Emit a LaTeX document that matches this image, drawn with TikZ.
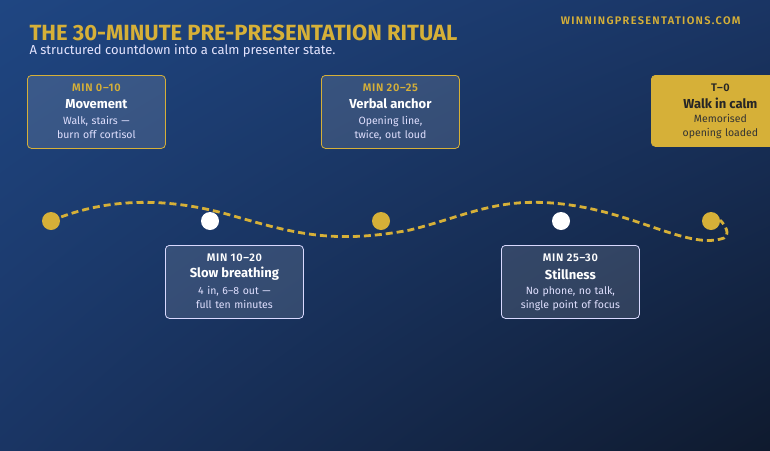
\documentclass[tikz,border=0pt]{standalone}
\usetikzlibrary{shadings}
\usepackage{fontspec}
\setmainfont{Fira Sans}
\newfontfamily\spaced[LetterSpace=12]{Fira Sans SemiBold}
\newfontfamily\spacedb[LetterSpace=6]{Fira Sans SemiBold}
\definecolor{gold}{HTML}{D6B038}
\definecolor{bgA}{HTML}{1F4682}
\definecolor{bgB}{HTML}{0F1A2E}
\definecolor{bgC}{HTML}{1A3564}
\begin{document}
\begin{tikzpicture}[x=1pt,y=-1pt,
  card/.style={draw=#1,line width=0.8pt,rounded corners=4pt,fill=white!80!gray,fill opacity=0.14,text opacity=1,minimum width=138pt,minimum height=73pt,anchor=north west,inner sep=0pt},
  dotg/.style={circle,fill=gold,minimum size=18pt,inner sep=0pt},
  dotw/.style={circle,fill=white,minimum size=18pt,inner sep=0pt},
  lbl/.style={font=\spacedb\fontsize{11}{13}\selectfont},
  ttl/.style={font=\bfseries\fontsize{13}{15}\selectfont},
  dsc/.style={font=\fontsize{10.5}{14}\selectfont,align=center,text width=125pt}]
\useasboundingbox (0,0) rectangle (770,450);
\shade[upper left=bgA,lower left=bgC,upper right=bgC,lower right=bgB] (0,0) rectangle (770,450);
\node[anchor=west,text=gold,font=\bfseries\fontsize{22}{24}\selectfont] (title) at (26,33) {THE 30-MINUTE PRE-PRESENTATION RITUAL};
\node[anchor=west,text=white!90!blue,font=\fontsize{13}{15}\selectfont] (sub) at (26,51) {A structured countdown into a calm presenter state.};
\node[anchor=east,text=gold,font=\spaced\fontsize{11}{13}\selectfont] (brand) at (744,21) {WINNINGPRESENTATIONS.COM};
% curve
\draw[gold,line width=2.8pt,dash pattern=on 7pt off 4pt] (51,221) .. controls (100,200) and (160,195) .. (230,215) .. controls (290,232) and (330,245) .. (410,230) .. controls (470,215) and (500,195) .. (570,205) .. controls (640,215) and (690,250) .. (724,238) .. controls (730,234) and (726,226) .. (720,220);
\node[dotg] (d1) at (51,221) {};
\node[dotw] (d2) at (210,221) {};
\node[dotg] (d3) at (381,221) {};
\node[dotw] (d4) at (561,221) {};
\node[dotg] (d5) at (711,221) {};
% cards
\node[card=gold] (c1) at (27,75) {};
\node[card=gold] (c2) at (321,75) {};
\node[card=gold,fill=gold,fill opacity=1,minimum height=71pt] (c3) at (651,75) {};
\node[card=white!85!blue] (c4) at (165,245) {};
\node[card=white!85!blue] (c5) at (501,245) {};
\foreach \c/\col/\tcol/\a/\b/\d in {c1/gold/white/MIN 0–10/Movement/{Walk, stairs — burn off cortisol},
  c2/gold/white/MIN 20–25/Verbal anchor/{Opening line, twice, out loud},
  c4/white/white/MIN 10–20/Slow breathing/{4 in, 6–8 out — full ten minutes},
  c5/white/white/MIN 25–30/Stillness/{No phone, no talk, single point of focus}}{
  \node[lbl,text=\col] (\c l) at ([yshift=-13]\c.north) {\a};
  \node[ttl,text=\tcol] (\c t) at ([yshift=-29]\c.north) {\b};
  \node[dsc,text=white!88!blue,anchor=north] (\c d) at ([yshift=-38]\c.north) {\d};
}
\node[lbl,text=black!85] (c3l) at ([yshift=-13]c3.north) {T–0};
\node[ttl,text=black!85] (c3t) at ([yshift=-28]c3.north) {Walk in calm};
\node[dsc,text=black!80,anchor=north] (c3d) at ([yshift=-36]c3.north) {Memorised opening loaded};
\end{tikzpicture}
\end{document}
